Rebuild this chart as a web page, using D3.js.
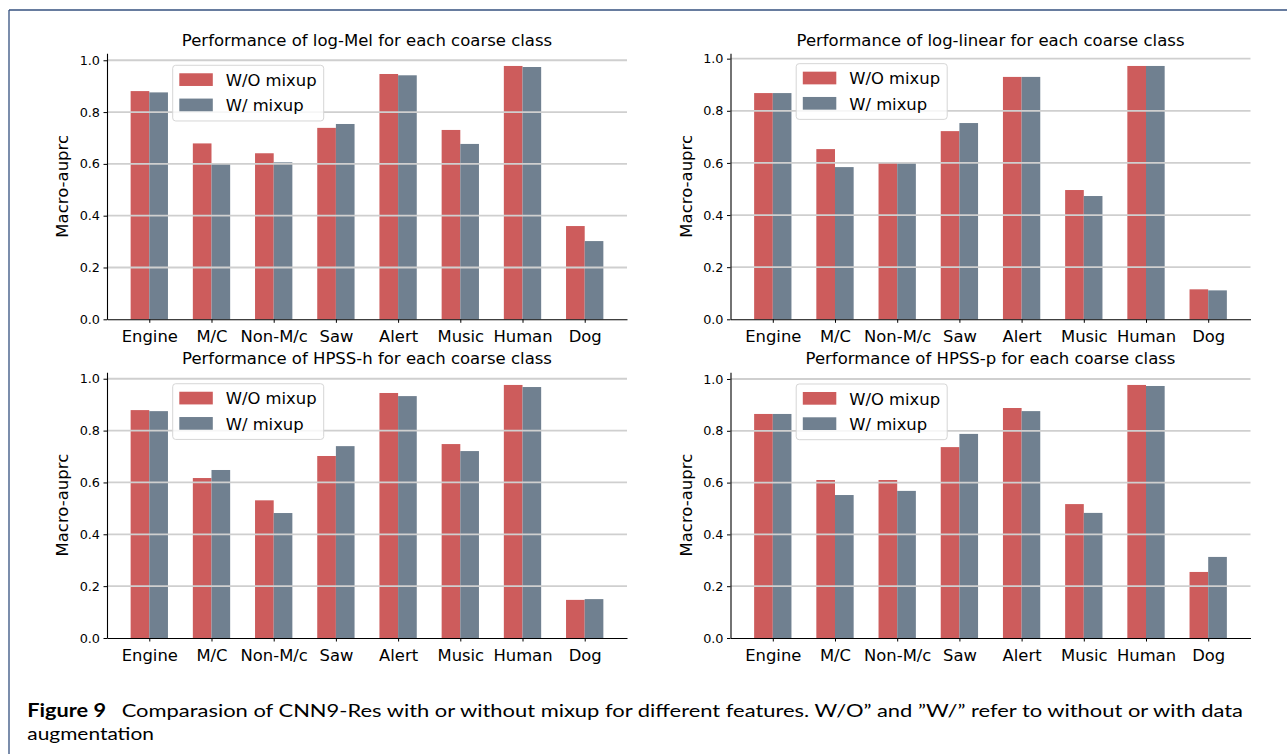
<!DOCTYPE html>
<html>
<head>
<meta charset="utf-8">
<script src="https://cdn.jsdelivr.net/npm/d3@7"></script>
<style>
  html, body { margin: 0; padding: 0; background: #fff; }
  svg { display: block; }
</style>
</head>
<body>
<svg id="chart" width="1287" height="754"></svg>
<script>
// ---------------- DATA ----------------
const categories = ["Engine", "M/C", "Non-M/c", "Saw", "Alert", "Music", "Human", "Dog"];
const seriesNames = ["W/O mixup", "W/ mixup"];
const yTicks = [0.0, 0.2, 0.4, 0.6, 0.8, 1.0];

const panelTitles = [
  "Performance of log-Mel for each coarse class",
  "Performance of log-linear for each coarse class",
  "Performance of HPSS-h for each coarse class",
  "Performance of HPSS-p for each coarse class"
];

const logMelWithout    = [0.881, 0.679, 0.641, 0.739, 0.947, 0.731, 0.978, 0.360];
const logMelWith       = [0.876, 0.602, 0.606, 0.754, 0.942, 0.677, 0.974, 0.302];
const logLinearWithout = [0.868, 0.653, 0.603, 0.722, 0.930, 0.496, 0.972, 0.115];
const logLinearWith    = [0.868, 0.584, 0.599, 0.753, 0.930, 0.473, 0.972, 0.111];
const hpssHWithout     = [0.879, 0.617, 0.531, 0.702, 0.945, 0.748, 0.976, 0.147];
const hpssHWith        = [0.875, 0.648, 0.482, 0.740, 0.933, 0.721, 0.968, 0.150];
const hpssPWithout     = [0.865, 0.610, 0.610, 0.737, 0.888, 0.517, 0.977, 0.255];
const hpssPWith        = [0.865, 0.552, 0.568, 0.788, 0.876, 0.483, 0.973, 0.313];

const yLabel = "Macro-auprc";
const captionBold = "Figure 9";
const captionLine1 = "Comparasion of CNN9-Res with or without mixup for different features. W/O\u201D and \u201DW/\u201D refer to without or with data";
const captionLine2 = "augmentation";

// ---------------- STYLE / LAYOUT ----------------
const colors = ["#cd5c5c", "#708090"];
const FONT = "'DejaVu Sans', sans-serif";
const panels = [
  { title: panelTitles[0], wo: logMelWithout,    w: logMelWith,    left: 107,   top: 53.3,  bottom: 319.3, titleY: 46 },
  { title: panelTitles[1], wo: logLinearWithout, w: logLinearWith, left: 730.5, top: 53.3,  bottom: 319.3, titleY: 46 },
  { title: panelTitles[2], wo: hpssHWithout,     w: hpssHWith,     left: 107,   top: 372.3, bottom: 638,   titleY: 364 },
  { title: panelTitles[3], wo: hpssPWithout,     w: hpssPWith,     left: 730.5, top: 372.3, bottom: 638,   titleY: 364 }
];
const axWidth = 520;

const svg = d3.select("#chart");

// frame
svg.append("line").attr("x1", 9).attr("x2", 1287).attr("y1", 10).attr("y2", 10)
  .attr("stroke", "#34507f").attr("stroke-width", 1.3);
svg.append("line").attr("x1", 9).attr("x2", 9).attr("y1", 10).attr("y2", 754)
  .attr("stroke", "#34507f").attr("stroke-width", 1.3);

panels.forEach(p => {
  const g = svg.append("g");
  const yMax = 1.05 * d3.max(p.wo.concat(p.w));
  const x = d3.scaleLinear().domain([-0.68, categories.length - 1 + 0.68]).range([p.left, p.left + axWidth]);
  const y = d3.scaleLinear().domain([0, yMax]).range([p.bottom, p.top]);
  const bw = 0.3;

  const rows = categories.map((c, i) => ({ i, vals: [p.wo[i], p.w[i]] }));

  // bars
  [0, 1].forEach(s => {
    g.append("g").selectAll("rect").data(rows).enter().append("rect")
      .attr("x", d => x(d.i - bw + s * bw))
      .attr("width", d => x(d.i + bw) - x(d.i))
      .attr("y", d => y(d.vals[s]))
      .attr("height", d => y(0) - y(d.vals[s]))
      .attr("fill", colors[s]);
  });

  // grid (drawn above bars)
  g.append("g").selectAll("line").data(yTicks.filter(t => t > 0)).enter().append("line")
    .attr("x1", p.left).attr("x2", p.left + axWidth)
    .attr("y1", d => y(d)).attr("y2", d => y(d))
    .attr("stroke", "#cfcfcf").attr("stroke-width", 1.8);

  // y axis
  const ya = g.append("g").attr("transform", `translate(${p.left},0)`)
    .call(d3.axisLeft(y).tickValues(yTicks).tickFormat(d3.format(".1f")).tickSize(3.5).tickPadding(3.5).tickSizeOuter(0));
  ya.selectAll("text").attr("font-family", FONT).attr("font-size", 12.8).attr("fill", "#000");
  ya.select(".domain").attr("stroke", "#000").attr("stroke-width", 1.1);
  ya.selectAll(".tick line").attr("stroke", "#000").attr("stroke-width", 1);

  // x axis
  const xa = g.append("g").attr("transform", `translate(0,${p.bottom})`)
    .call(d3.axisBottom(x).tickValues(d3.range(categories.length)).tickFormat(i => categories[i]).tickSize(3.5).tickPadding(5).tickSizeOuter(0));
  xa.selectAll("text").attr("font-family", FONT).attr("font-size", 16.4).attr("fill", "#000")
    .attr("dy", null).attr("y", 23).attr("dominant-baseline", "auto");
  xa.select(".domain").attr("stroke", "#000").attr("stroke-width", 1.1);
  xa.selectAll(".tick line").attr("stroke", "#000").attr("stroke-width", 1);

  // title
  g.append("text").attr("x", p.left + axWidth / 2).attr("y", p.titleY)
    .attr("text-anchor", "middle").attr("font-family", FONT).attr("font-size", 16.5)
    .text(p.title);

  // y label
  const cy = (p.top + p.bottom) / 2;
  g.append("text").attr("transform", `translate(${p.left - 39},${cy}) rotate(-90)`)
    .attr("text-anchor", "middle").attr("font-family", FONT).attr("font-size", 16.5)
    .text(yLabel);

  // legend
  const lx = p.left + 65.7, ly = y(1.0) + 5;
  const lg = g.append("g");
  lg.append("rect").attr("x", lx).attr("y", ly).attr("width", 151).attr("height", 55.7)
    .attr("rx", 3).attr("fill", "#fff").attr("fill-opacity", 0.8)
    .attr("stroke", "#d6d6d6").attr("stroke-width", 1);
  seriesNames.forEach((name, s) => {
    lg.append("rect").attr("x", lx + 6.6).attr("y", ly + 8 + s * 25.3)
      .attr("width", 33.5).attr("height", 12.7).attr("fill", colors[s]);
    lg.append("text").attr("x", lx + 53).attr("y", ly + 20.7 + s * 25.3)
      .attr("font-family", FONT).attr("font-size", 16.4).text(name);
  });
});

// caption
const CAP = "Lato, 'Open Sans', sans-serif";
svg.append("text").attr("x", 27.3).attr("y", 716.7).attr("font-family", CAP)
  .attr("font-size", 18).attr("font-weight", "bold")
  .attr("textLength", 78.7).attr("lengthAdjust", "spacingAndGlyphs").text(captionBold);
svg.append("text").attr("x", 121.7).attr("y", 716.7).attr("font-family", CAP)
  .attr("font-size", 18).attr("textLength", 1243 - 121.7).attr("lengthAdjust", "spacingAndGlyphs")
  .text(captionLine1);
svg.append("text").attr("x", 27.3).attr("y", 739.5).attr("font-family", CAP)
  .attr("font-size", 18).attr("textLength", 126.7).attr("lengthAdjust", "spacingAndGlyphs")
  .text(captionLine2);
</script>
</body>
</html>
